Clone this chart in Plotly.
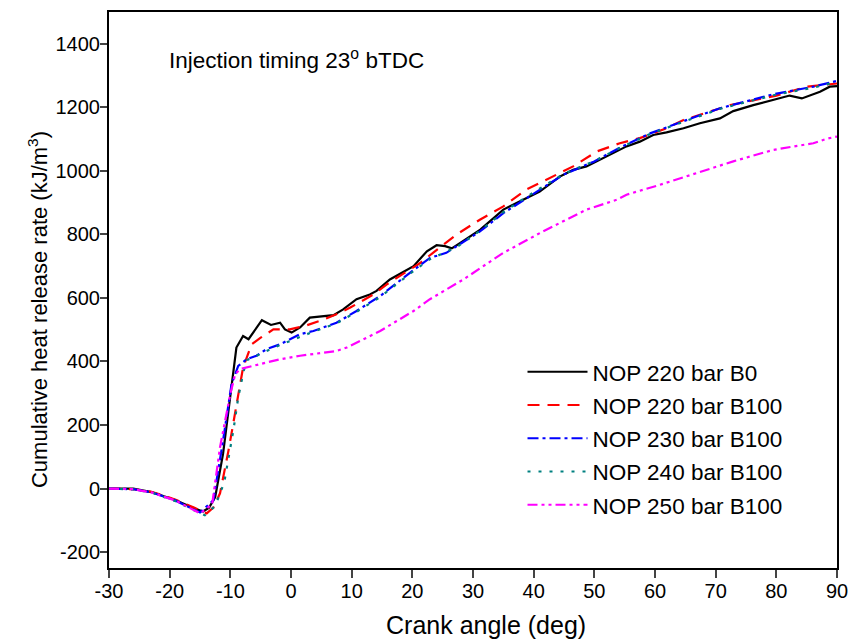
import plotly.graph_objects as go

# ---- data ----
x_b0_220 = [-30, -26, -23, -19, -16, -14.5, -13.5, -12.5, -11.2, -9.8, -9, -7.9, -7, -4.8, -3.3, -1.8, -1, 0.1, 1.5,
            3.1, 7, 8.6, 10.8, 13, 14.1, 16.3, 20.2, 22.4, 24, 25.4, 26.5, 27.9, 31.2, 35, 39.4, 41, 44.3, 46.5,
            48.7, 52, 55.3, 57.5, 59.7, 61.9, 64.7, 67.4, 70.7, 72.9, 76.2, 82.2, 84.2, 87.2, 88.8, 90]
y_b0_220 = [0, 0, -11, -37, -62, -72, -60, -27, 109, 318, 444, 480, 470, 530, 515, 522, 501, 491, 507,
            538, 546, 564, 596, 611, 622, 658, 700, 747, 766, 763, 756, 773, 815, 878, 920, 935, 982, 1003,
            1014, 1045, 1077, 1092, 1113, 1121, 1134, 1150, 1165, 1188, 1207, 1237, 1228, 1249, 1265, 1267]

x_b100_220 = [-30, -26, -23, -19, -16, -13.9, -12.8, -11.7, -10.3, -9.2, -8.4, -7.9, -7.3, -6.5, -5, -2.9, -0.2,
              2.3, 4.8, 7.5, 9.7, 13.6, 15.8, 21.3, 23.4, 27.3, 31.2, 35, 38.8, 42.7, 46.5, 50.4, 54.2, 57.5,
              61.9, 64.7, 69.1, 72.4, 80, 85, 90]
y_b100_220 = [0, -2, -10, -35, -60, -78, -60, -15, 120, 245, 334, 381, 412, 454, 475, 501, 501,
              512, 528, 549, 569, 611, 643, 710, 742, 800, 847, 888, 941, 977, 1014, 1061, 1087, 1103,
              1134, 1160, 1186, 1207, 1237, 1265, 1275]

x_b100_230 = [-30, -26, -23, -19, -15, -12.8, -11.2, -9.8, -8.7, -7.3, -5.7, -4, -1.8, 1.5, 3.7, 7.5, 10.8,
              14.7, 19.6, 22.9, 25.6, 27.3, 31.2, 35, 38.8, 44.9, 49.9, 54.2, 59.2, 63, 66.8, 70.7, 79.5, 86.1, 90]
y_b100_230 = [0, -2, -12, -38, -75, -37, 151, 329, 386, 407, 418, 439, 454, 486, 496, 522, 559,
              606, 679, 726, 742, 763, 810, 867, 914, 988, 1029, 1073, 1118, 1145, 1171, 1197, 1241, 1265, 1283]

x_b100_240 = [-30, -26, -23, -19, -16, -14.2, -12.5, -11, -9.5, -8.7, -7.8, -7.2, -5.7, -1.8, 3.7, 7.5, 10.8,
              14.7, 19.6, 22.9, 27.3, 31.2, 35, 38.8, 44.9, 49.9, 54.2, 59.2, 63, 66.8, 70.7, 79.5, 86.1, 90]
y_b100_240 = [0, -3, -12, -40, -68, -84, -55, 20, 183, 287, 370, 405, 418, 452, 494, 520, 556,
              603, 676, 722, 760, 812, 870, 918, 990, 1030, 1072, 1116, 1143, 1168, 1195, 1238, 1262, 1280]

x_b100_250 = [-30, -26, -23, -19, -15, -13, -11.7, -10, -9.2, -8.4, -4, -1.8, 1.5, 3.7, 7.5, 9.2, 14.7, 20.2,
              22.9, 28.4, 35, 41.6, 48.7, 53.7, 55.3, 60.8, 66.8, 72.9, 79.5, 86.1, 88.3, 90]
y_b100_250 = [0, -2, -12, -38, -78, -50, 130, 298, 360, 376, 397, 407, 418, 423, 433, 444, 496, 559,
              596, 658, 742, 810, 878, 909, 925, 956, 993, 1030, 1066, 1087, 1101, 1108]

names = ["NOP 220 bar B0", "NOP 220 bar B100", "NOP 230 bar B100", "NOP 240 bar B100", "NOP 250 bar B100"]
x_ticks = [-30, -20, -10, 0, 10, 20, 30, 40, 50, 60, 70, 80, 90]
y_ticks = [-200, 0, 200, 400, 600, 800, 1000, 1200, 1400]
x_tick_text = [str(v) for v in x_ticks]
y_tick_text = [str(v) for v in y_ticks]

FONT = "Arial, 'Liberation Sans', sans-serif"

series = [
    (x_b0_220, y_b0_220, "#000000", "solid"),
    (x_b100_220, y_b100_220, "#FF0000", "12px,8px"),
    (x_b100_230, y_b100_230, "#0000FF", "11px,4px,3px,4px"),
    (x_b100_240, y_b100_240, "#008080", "3px,8px"),
    (x_b100_250, y_b100_250, "#FF00FF", "10px,4px,3px,4px,3px,4px"),
]

fig = go.Figure()
for i, (xs, ys, col, dash) in enumerate(series):
    fig.add_trace(go.Scatter(x=xs, y=ys, mode="lines", name=names[i], legendgroup=str(i),
                             line=dict(color=col, width=2.2, dash=dash)))

fig.update_layout(
    width=861, height=643,
    margin=dict(l=109, r=24, t=10, b=75),
    paper_bgcolor="white", plot_bgcolor="white",
    font=dict(family=FONT, size=20, color="black"),
    showlegend=True,
    legend=dict(x=0.568, y=0.391, xanchor="left", yanchor="top",
                font=dict(family=FONT, size=22.5, color="black"),
                bgcolor="rgba(0,0,0,0)", itemwidth=60, tracegroupgap=1),
    annotations=[
        dict(x=0.08, y=0.915, xref="paper", yref="paper", xanchor="left", yanchor="middle",
             text="Injection timing 23<sup>o</sup> bTDC", showarrow=False,
             font=dict(family=FONT, size=22.5, color="black")),
        dict(x=0.518, y=-0.102, xref="paper", yref="paper", xanchor="center", yanchor="middle",
             text="Crank angle (deg)", showarrow=False,
             font=dict(family=FONT, size=25, color="black")),
        dict(x=-0.0975, y=0.464, xref="paper", yref="paper", xanchor="center", yanchor="middle",
             text="Cumulative heat release rate (kJ/m<sup>3</sup>)", showarrow=False, textangle=-90,
             font=dict(family=FONT, size=22, color="black")),
    ],
)
fig.update_xaxes(range=[-30, 90], tickvals=x_ticks, ticktext=x_tick_text, ticks="outside", ticklen=8, tickwidth=2,
                 showline=True, linewidth=2, linecolor="black", mirror=True, showgrid=False, zeroline=False,
                 tickfont=dict(size=20), ticklabelstandoff=-4)
fig.update_yaxes(range=[-250, 1500], tickvals=y_ticks, ticktext=y_tick_text, ticks="outside", ticklen=7, tickwidth=2,
                 showline=True, linewidth=2, linecolor="black", mirror=True, showgrid=False, zeroline=False,
                 tickfont=dict(size=20), ticklabelstandoff=-4)

fig.write_html("out.html")
